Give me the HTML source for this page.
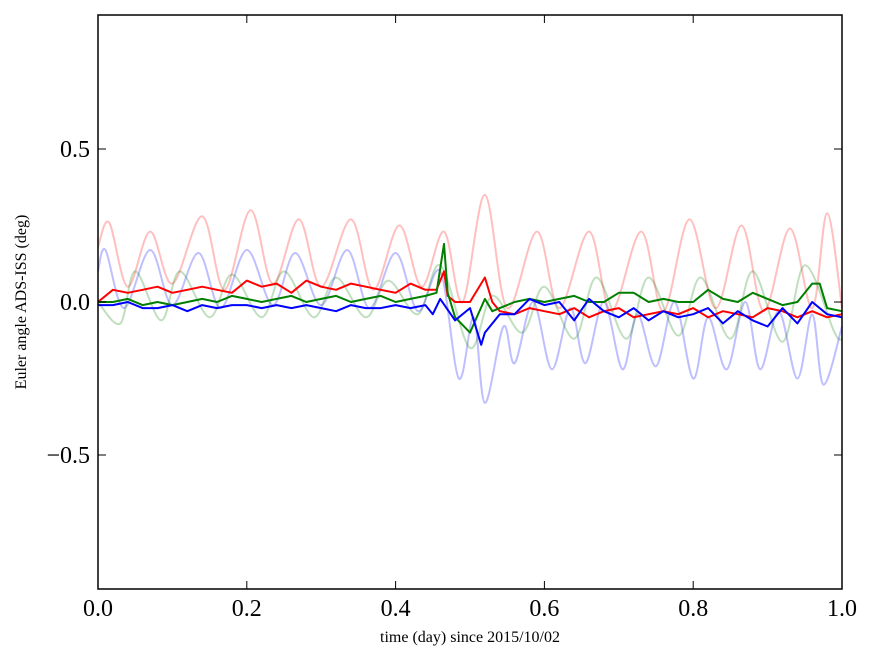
<!DOCTYPE html>
<html><head><meta charset="utf-8"><style>
body{margin:0;background:#fff;}
svg{display:block;font-family:"Liberation Serif",serif;}
</style></head><body>
<svg id="chart" width="875" height="662">
<rect x="0" y="0" width="875" height="662" fill="#fff"/>
<g id="series"></g>
<rect x="98" y="15" width="744" height="574" fill="none" stroke="#000" stroke-width="1.5"/>
<g id="ticks"></g>
<text x="470" y="642" font-size="16" text-anchor="middle">time (day) since 2015/10/02</text>
<text transform="translate(26,302) rotate(-90)" font-size="16" text-anchor="middle">Euler angle ADS-ISS (deg)</text>
</svg>
<script>
const xTicks=[0.0,0.2,0.4,0.6,0.8,1.0];
const xTickLabels=["0.0","0.2","0.4","0.6","0.8","1.0"];
const yTicks=[-0.5,0.0,0.5];
const yTickLabels=["\u22120.5","0.0","0.5"];
const pinkX=[0,0.015,0.04,0.07,0.1,0.14,0.17,0.205,0.235,0.27,0.3,0.34,0.37,0.405,0.435,0.465,0.49,0.52,0.55,0.59,0.62,0.66,0.69,0.73,0.76,0.795,0.83,0.865,0.895,0.93,0.96,0.98,1.0];
const pinkY=[0.18,0.26,0.05,0.23,0.06,0.28,0.04,0.3,0.06,0.27,0.05,0.27,0.04,0.25,0.05,0.23,0.0,0.35,-0.02,0.23,-0.02,0.23,-0.03,0.23,-0.03,0.27,-0.02,0.25,-0.03,0.24,-0.02,0.29,-0.02];
const lblueX=[0,0.01,0.035,0.07,0.1,0.135,0.165,0.2,0.235,0.265,0.3,0.335,0.365,0.4,0.43,0.46,0.485,0.505,0.52,0.545,0.56,0.585,0.61,0.635,0.655,0.68,0.705,0.725,0.75,0.775,0.8,0.82,0.845,0.87,0.89,0.915,0.94,0.96,0.975,1.0];
const lblueY=[0.1,0.17,-0.02,0.17,-0.01,0.16,-0.02,0.17,-0.01,0.16,-0.01,0.17,-0.02,0.16,-0.03,0.1,-0.25,-0.05,-0.33,-0.08,-0.2,0.0,-0.22,-0.02,-0.2,0.0,-0.22,-0.04,-0.21,0.0,-0.25,-0.05,-0.22,0.0,-0.22,-0.03,-0.25,-0.04,-0.27,-0.08];
const lgreenX=[0,0.03,0.05,0.085,0.11,0.15,0.18,0.22,0.25,0.29,0.32,0.36,0.39,0.43,0.46,0.5,0.53,0.57,0.6,0.64,0.67,0.71,0.74,0.78,0.81,0.85,0.88,0.92,0.95,0.99,1.0];
const lgreenY=[0.0,-0.07,0.1,-0.06,0.1,-0.05,0.09,-0.05,0.1,-0.05,0.08,-0.05,0.07,-0.04,0.12,-0.15,0.02,-0.1,0.05,-0.12,0.08,-0.12,0.08,-0.11,0.08,-0.12,0.1,-0.13,0.12,-0.1,-0.12];
const redX=[0,0.02,0.04,0.06,0.08,0.1,0.12,0.14,0.16,0.18,0.2,0.22,0.24,0.26,0.28,0.3,0.32,0.34,0.36,0.38,0.4,0.42,0.44,0.455,0.465,0.47,0.48,0.5,0.52,0.53,0.54,0.56,0.58,0.6,0.62,0.64,0.66,0.68,0.7,0.72,0.74,0.76,0.78,0.8,0.82,0.84,0.86,0.88,0.9,0.92,0.94,0.96,0.98,1.0];
const redY=[0.0,0.04,0.03,0.04,0.05,0.03,0.04,0.05,0.04,0.03,0.07,0.05,0.06,0.03,0.07,0.05,0.04,0.06,0.05,0.04,0.03,0.06,0.04,0.04,0.1,0.02,0.0,0.0,0.08,0.0,-0.03,-0.04,-0.02,-0.03,-0.04,-0.02,-0.05,-0.03,-0.02,-0.05,-0.04,-0.03,-0.04,-0.02,-0.05,-0.03,-0.04,-0.05,-0.02,-0.03,-0.05,-0.03,-0.05,-0.04];
const greenX=[0,0.02,0.04,0.06,0.08,0.1,0.12,0.14,0.16,0.18,0.2,0.22,0.24,0.26,0.28,0.3,0.32,0.34,0.36,0.38,0.4,0.42,0.44,0.455,0.465,0.47,0.48,0.5,0.52,0.53,0.54,0.56,0.58,0.6,0.62,0.64,0.66,0.68,0.7,0.72,0.74,0.76,0.78,0.8,0.82,0.84,0.86,0.88,0.9,0.92,0.94,0.96,0.97,0.98,1.0];
const greenY=[0.0,0.0,0.01,-0.01,0.0,-0.01,0.0,0.01,0.0,0.02,0.01,0.0,0.01,0.02,0.0,0.01,0.02,0.0,0.01,0.02,0.0,0.01,0.02,0.03,0.19,0.03,-0.05,-0.1,0.01,-0.03,-0.02,0.0,0.01,0.0,0.01,0.02,0.0,0.0,0.03,0.03,0.0,0.01,0.0,0.0,0.04,0.01,0.0,0.03,0.01,-0.01,0.0,0.06,0.06,-0.02,-0.03];
const blueX=[0,0.02,0.04,0.06,0.08,0.1,0.12,0.14,0.16,0.18,0.2,0.22,0.24,0.26,0.28,0.3,0.32,0.34,0.36,0.38,0.4,0.42,0.44,0.45,0.46,0.48,0.5,0.515,0.52,0.54,0.56,0.58,0.6,0.62,0.64,0.66,0.68,0.7,0.72,0.74,0.76,0.78,0.8,0.82,0.84,0.86,0.88,0.9,0.92,0.94,0.96,0.98,1.0];
const blueY=[-0.01,-0.01,0.0,-0.02,-0.02,-0.01,-0.03,-0.01,-0.02,-0.01,-0.01,-0.02,-0.01,-0.02,-0.01,-0.02,-0.03,-0.01,-0.02,-0.02,-0.01,-0.02,-0.01,-0.04,0.01,-0.06,-0.02,-0.14,-0.1,-0.04,-0.04,0.01,-0.01,0.0,-0.06,0.01,-0.03,-0.05,-0.02,-0.06,-0.03,-0.05,-0.04,-0.02,-0.07,-0.03,-0.06,-0.08,-0.02,-0.07,0.0,-0.04,-0.05];

const L=98,R=842,T=15,B=589;
const sx=v=>L+(R-L)*v;
const sy=v=>302-306*v;
const NS="http://www.w3.org/2000/svg";
const g=document.getElementById('series');
const tk=document.getElementById('ticks');
function line(xs,ys,color,op,name,smooth){
  const pts=xs.map((x,i)=>[sx(x),sy(ys[i])]);
  let d='M'+pts[0][0].toFixed(1)+','+pts[0][1].toFixed(1);
  for(let i=0;i<pts.length-1;i++){
    if(smooth){
      const p0=pts[Math.max(0,i-1)],p1=pts[i],p2=pts[i+1],p3=pts[Math.min(pts.length-1,i+2)];
      const c1=[p1[0]+(p2[0]-p0[0])/6,p1[1]+(p2[1]-p0[1])/6];
      const c2=[p2[0]-(p3[0]-p1[0])/6,p2[1]-(p3[1]-p1[1])/6];
      d+=' C'+c1.join(',')+' '+c2.join(',')+' '+p2.join(',');
    } else d+=' L'+pts[i+1][0].toFixed(1)+','+pts[i+1][1].toFixed(1);
  }
  const p=document.createElementNS(NS,'path');
  p.setAttribute('d',d);
  p.setAttribute('fill','none');p.setAttribute('stroke',color);
  p.setAttribute('stroke-width','2');p.setAttribute('stroke-opacity',op);
  p.setAttribute('stroke-linejoin','round');
  
  
  g.appendChild(p);
}
line(pinkX,pinkY,'#ff0000',0.25,'faint-red-series',true);
line(lblueX,lblueY,'#0000ff',0.25,'faint-blue-series',true);
line(lgreenX,lgreenY,'#008000',0.25,'faint-green-series',true);
line(redX,redY,'#ff0000',1,'red-series',false);
line(greenX,greenY,'#008000',1,'green-series',false);
line(blueX,blueY,'#0000ff',1,'blue-series',false);
function el(tag,attrs,parent){const e=document.createElementNS(NS,tag);for(const k in attrs)e.setAttribute(k,attrs[k]);parent.appendChild(e);return e;}
xTicks.forEach((v,i)=>{
  const x=sx(v);
  el('line',{x1:x,x2:x,y1:B,y2:B-8,stroke:'#000'},tk);
  el('line',{x1:x,x2:x,y1:T,y2:T+8,stroke:'#000'},tk);
  const t=el('text',{x:x,y:616,'font-size':24,'text-anchor':'middle'},tk);
  t.textContent=xTickLabels[i];
  
  
});
yTicks.forEach((v,i)=>{
  const y=sy(v);
  el('line',{x1:L,x2:L+8,y1:y,y2:y,stroke:'#000'},tk);
  el('line',{x1:R,x2:R-8,y1:y,y2:y,stroke:'#000'},tk);
  const t=el('text',{x:90,y:y+8,'font-size':24,'text-anchor':'end'},tk);
  t.textContent=yTickLabels[i];
  
  
});
</script>
</body></html>
